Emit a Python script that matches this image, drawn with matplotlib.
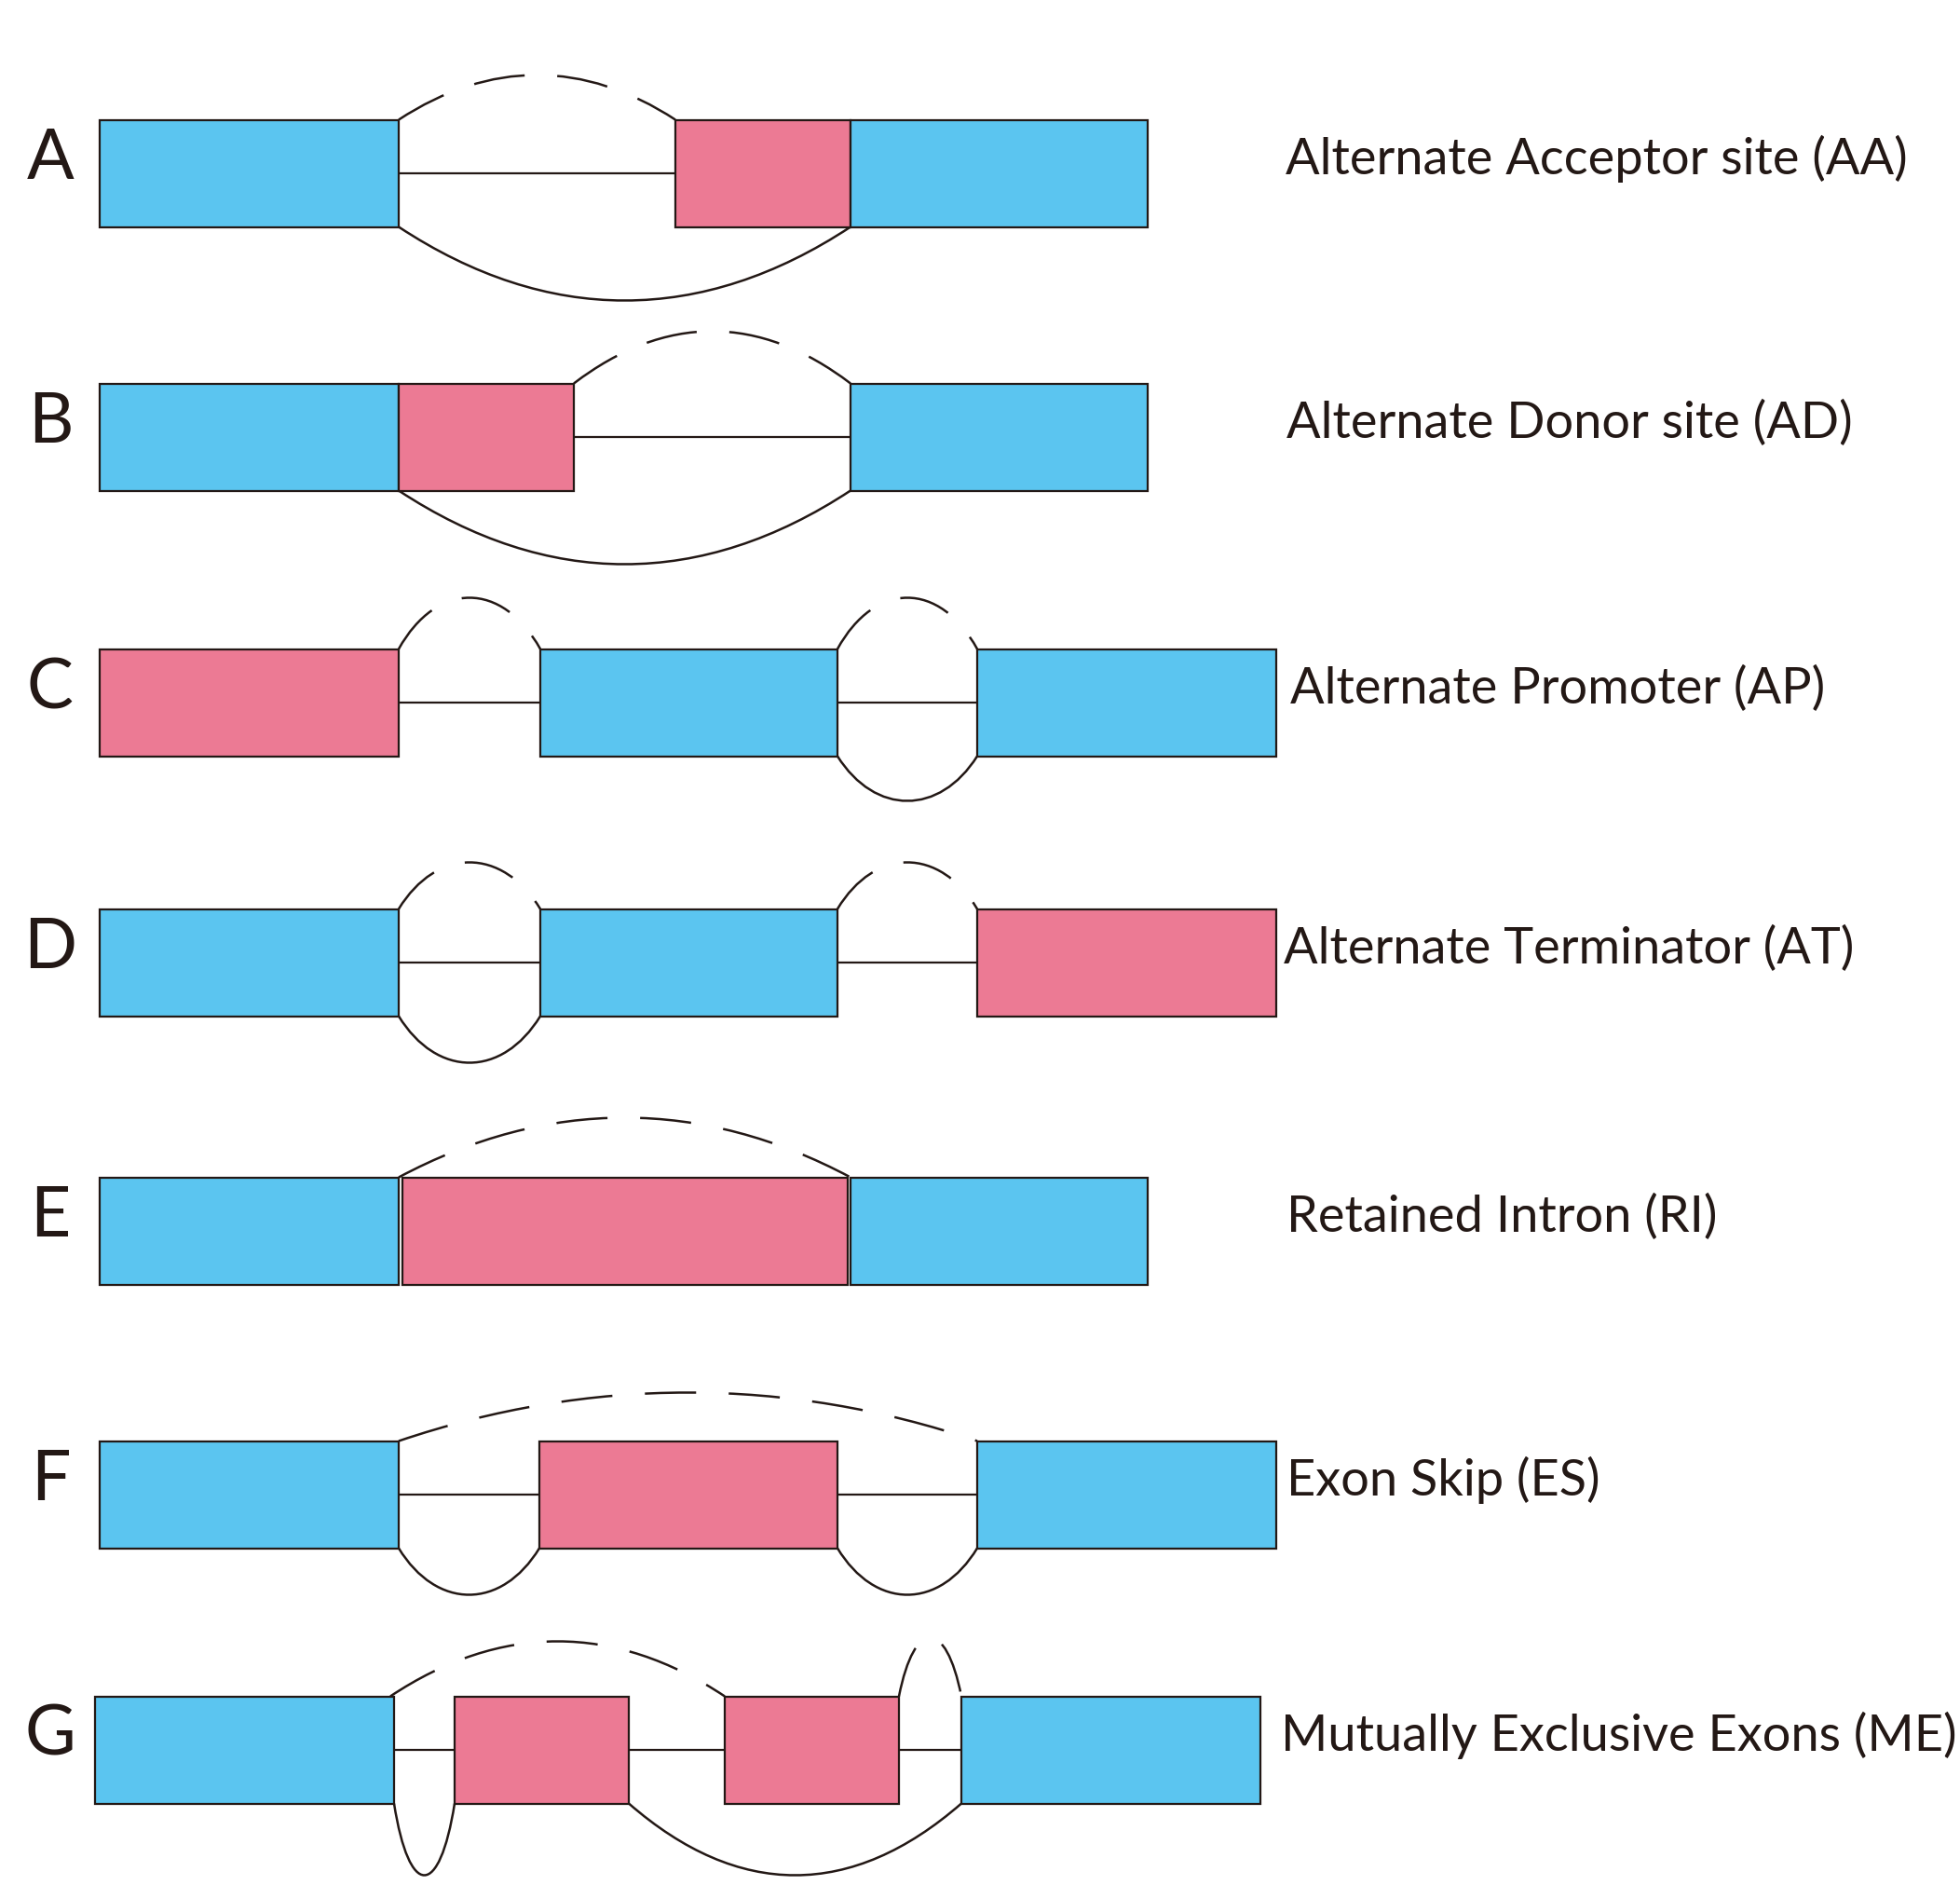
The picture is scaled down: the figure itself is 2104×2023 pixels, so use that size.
import numpy as np
import matplotlib.pyplot as plt
from matplotlib.path import Path
from matplotlib.patches import PathPatch, Rectangle

# Splicing event panels (coordinates in figure pixel units of the original drawing)
panel_ids = ['A', 'B', 'C', 'D', 'E', 'F', 'G']
event_names = ['Alternate Acceptor site (AA)', 'Alternate Donor site (AD)',
               'Alternate Promoter (AP)', 'Alternate Terminator (AT)',
               'Retained Intron (RI)', 'Exon Skip (ES)',
               'Mutually Exclusive Exons (ME)']
row_y = [187, 470, 755, 1034, 1322, 1605, 1879]
name_x = [1380, 1381, 1385, 1378, 1381, 1381, 1375]

# exons: (start, end, kind)  kind: 'c' constitutive, 'a' alternative
exons = [
    [(107, 428, 'c'), (725, 913, 'a'), (913, 1232, 'c')],
    [(107, 428, 'c'), (428, 616, 'a'), (913, 1232, 'c')],
    [(107, 428, 'a'), (580, 899, 'c'), (1049, 1370, 'c')],
    [(107, 428, 'c'), (580, 899, 'c'), (1049, 1370, 'a')],
    [(107, 428, 'c'), (432, 910, 'a'), (913, 1232, 'c')],
    [(107, 428, 'c'), (579, 899, 'a'), (1049, 1370, 'c')],
    [(102, 423, 'c'), (488, 675, 'a'), (778, 965, 'a'), (1032, 1353, 'c')],
]
# introns drawn as plain lines
introns = [
    [(428, 725)],
    [(616, 913)],
    [(428, 580), (899, 1049)],
    [(428, 580), (899, 1049)],
    [],
    [(428, 579), (899, 1049)],
    [(423, 488), (675, 778), (965, 1032)],
]
# junction arcs: (start, end, depth, side)  side 'up' dashed, 'down' solid
arcs = [
    [(428, 725, 48, 'up'), (428, 913, 79, 'down')],
    [(616, 913, 56, 'up'), (428, 913, 79, 'down')],
    [(428, 580, 55, 'up'), (899, 1049, 55, 'up'), (899, 1049, 48, 'down')],
    [(428, 580, 50, 'up'), (899, 1049, 50, 'up'), (428, 580, 50, 'down')],
    [(428, 913, 64, 'up')],
    [(428, 1049, 52, 'up'), (428, 579, 50, 'down'), (899, 1049, 50, 'down')],
    [(419, 778, 59, 'up'), (965, 1032, 63, 'up'), (423, 488, 77, 'down'), (675, 1032, 77, 'down')],
]

box_h = 115
blue = '#5BC5F0'
pink = '#EC7A94'
ink = '#231815'

fig = plt.figure(figsize=(21.04, 20.24), dpi=100)
ax = fig.add_axes([0, 0, 1, 1])
ax.set_xlim(0, 2104)
ax.set_ylim(2024, 0)
ax.axis('off')


def arc(ax, x0, x1, y, depth, side):
    w = x1 - x0
    h = depth / 0.75
    if w > 250:
        k = 0.33
    elif w > 100:
        k = 0.27
    else:
        k = 0.25
    if side == 'up':
        yc = y - h
        ls = (0, (22, 14))
    else:
        yc = y + h
        ls = '-'
    verts = [(x0, y), (x0 + k * w, yc), (x1 - k * w, yc), (x1, y)]
    codes = [Path.MOVETO, Path.CURVE4, Path.CURVE4, Path.CURVE4]
    ax.add_patch(PathPatch(Path(verts, codes), fill=False, ec=ink, lw=1.8,
                           linestyle=ls, capstyle='butt'))


for i in range(len(panel_ids)):
    yc = row_y[i]
    top = yc - box_h / 2
    bot = yc + box_h / 2
    for s, e in introns[i]:
        ax.plot([s, e], [yc, yc], color=ink, lw=1.6, zorder=1)
    for s, e, kind in exons[i]:
        ax.add_patch(Rectangle((s, top), e - s, box_h,
                               fc=blue if kind == 'c' else pink,
                               ec=ink, lw=1.6, zorder=2))
    for s, e, d, side in arcs[i]:
        arc(ax, s, e, top if side == 'up' else bot, d, side)
    ax.text(54, yc + 5, panel_ids[i], fontsize=54, family='Lato', color=ink,
            ha='center', va='baseline')
    ax.text(name_x[i], yc, event_names[i], fontsize=39, family='Lato', color=ink,
            ha='left', va='baseline')

plt.savefig('out.png', dpi=100)
